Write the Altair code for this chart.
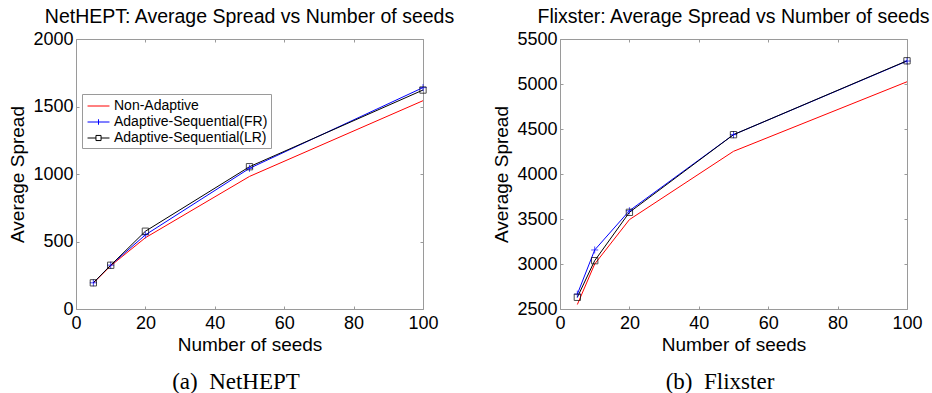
import altair as alt
import pandas as pd

seeds = [5, 10, 20, 50, 100]
series_names = ["Non-Adaptive", "Adaptive-Sequential(FR)", "Adaptive-Sequential(LR)"]
series_colors = ["#ff0000", "#0000ff", "#000000"]

# NetHEPT
net_na = [192, 320, 528, 982, 1543]
net_fr = [194, 325, 549, 1042, 1640]
net_lr = [194, 324, 576, 1054, 1622]
# Flixster
flx_na = [2550, 3000, 3493, 4252, 5025]
flx_fr = [2665, 3156, 3592, 4437, 5255]
flx_lr = [2630, 3037, 3574, 4437, 5258]

titles = ["NetHEPT: Average Spread vs Number of seeds", "Flixster: Average Spread vs Number of seeds"]
captions = ["(a)\u00a0\u00a0NetHEPT", "(b)\u00a0\u00a0Flixster"]
x_ticks = [0, 20, 40, 60, 80, 100]
net_y_ticks = [0, 500, 1000, 1500, 2000]
flx_y_ticks = [2500, 3000, 3500, 4000, 4500, 5000, 5500]

FONT = "Liberation Sans"
GRAY = "#9a9a9a"
W, H = 347, 270

legend_shapes = [
    "M-0.76,0H1.82",
    "M-0.76,0H1.82M0.53,-0.32V0.32",
    "M-0.76,0H0.23M0.83,0H1.82M0.23,-0.3H0.83V0.3H0.23Z",
]


def make_df(na, fr, lr):
    rows = []
    for name, vals in zip(series_names, [na, fr, lr]):
        for s, v in zip(seeds, vals):
            rows.append({"seeds": s, "value": v, "series": name})
    return pd.DataFrame(rows)


def panel(df, title, caption, y_dom, y_ticks, lx, ly):
    base = alt.Chart(df)
    xs = alt.Scale(domain=[0, 100], nice=False, zero=False)
    ys = alt.Scale(domain=y_dom, nice=False, zero=False)
    leg = alt.Legend(
        title=None, orient="none", legendX=lx, legendY=ly,
        fillColor="white", strokeColor=GRAY, padding=3, rowPadding=0,
        symbolSize=289, symbolStrokeWidth=1, labelFont=FONT, labelFontSize=14,
        labelColor="black", labelOffset=11, symbolFillColor="transparent",
    )
    color = alt.Color("series:N", scale=alt.Scale(domain=series_names, range=series_colors), legend=leg)

    main_x = alt.Axis(orient="bottom", values=x_ticks, format="d", tickSize=0, domain=False, grid=False,
                      labelFlush=False, labelOverlap=False,
                      labelFont=FONT, labelFontSize=18, labelColor="black", labelPadding=5,
                      title="Number of seeds", titleFont=FONT, titleFontSize=19,
                      titleFontWeight="normal", titleColor="black", titlePadding=3)
    main_y = alt.Axis(orient="left", values=y_ticks, format="d", tickSize=0, domain=False, grid=False,
                      labelFlush=False, labelOverlap=False,
                      labelFont=FONT, labelFontSize=18, labelColor="black", labelPadding=3,
                      title="Average Spread", titleFont=FONT, titleFontSize=19,
                      titleFontWeight="normal", titleColor="black", titlePadding=5)

    def tick_axis(orient, vals):
        return alt.Axis(orient=orient, values=vals, offset=-3, tickSize=3, tickColor=GRAY,
                        labels=False, domain=False, grid=False, title=None,
                        minExtent=0, maxExtent=0)

    lines = base.mark_line(strokeWidth=1, clip=False).encode(
        x=alt.X("seeds:Q", scale=xs, axis=main_x),
        y=alt.Y("value:Q", scale=ys, axis=main_y),
        color=color,
        detail="series:N",
    )
    fr_pts = base.transform_filter(alt.datum.series == series_names[1]).mark_point(
        shape="M-1,0H1M0,-1V1", size=49, filled=False, strokeWidth=1, color=series_colors[1]
    ).encode(
        x=alt.X("seeds:Q", scale=xs, axis=tick_axis("top", x_ticks)),
        y=alt.Y("value:Q", scale=ys, axis=tick_axis("right", y_ticks)),
    )
    lr_pts = base.transform_filter(alt.datum.series == series_names[2]).mark_point(
        shape="square", size=40, filled=False, strokeWidth=1, color=series_colors[2]
    ).encode(
        x=alt.X("seeds:Q", scale=xs, axis=tick_axis("bottom", x_ticks)),
        y=alt.Y("value:Q", scale=ys, axis=tick_axis("left", y_ticks)),
    )
    leg_pts = base.mark_point(opacity=0, filled=False, size=289, strokeWidth=1).encode(
        x=alt.X("seeds:Q", scale=xs, axis=None),
        y=alt.Y("value:Q", scale=ys, axis=None),
        color=color,
        shape=alt.Shape("series:N", scale=alt.Scale(domain=series_names, range=legend_shapes), legend=leg),
    )
    cap = alt.Chart(pd.DataFrame({"cap": [caption]})).mark_text(
        font="Liberation Serif", fontSize=23, baseline="alphabetic", align="center", color="black"
    ).encode(x=alt.value(160), y=alt.value(350), text="cap:N")

    return alt.layer(lines, fr_pts, lr_pts, leg_pts, cap).resolve_axis(
        x="independent", y="independent"
    ).properties(
        width=W, height=H,
        title=alt.Title(title, font=FONT, fontSize=19.5, fontWeight="normal", color="black",
                        anchor="middle", offset=3),
    )


left = panel(make_df(net_na, net_fr, net_lr), titles[0], captions[0], [0, 2000], net_y_ticks, 6, 55)
right = panel(make_df(flx_na, flx_fr, flx_lr), titles[1], captions[1], [2500, 5500], flx_y_ticks, 153, 214)

chart = alt.hconcat(left, right, spacing=36).configure_view(
    stroke=GRAY, strokeWidth=1
).properties(
    background="white", padding={"left": 8, "top": 6, "right": 0, "bottom": 0}
)

chart.save("out.html", embed_options={"renderer": "svg", "actions": False})
